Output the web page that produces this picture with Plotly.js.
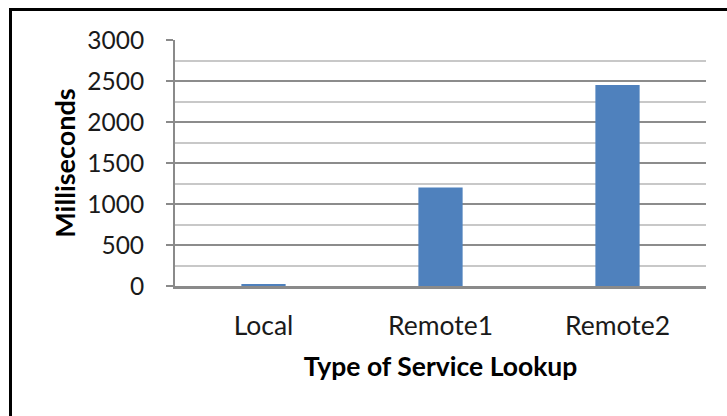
<!DOCTYPE html>
<html>
<head>
<meta charset="utf-8">
<script src="https://cdn.plot.ly/plotly-3.0.1.min.js"></script>
<style>
  html, body { margin: 0; padding: 0; background: #fff; }
  #wrap { position: relative; width: 727px; height: 416px; overflow: hidden; }
  #chart { position: absolute; left: 0; top: 0; width: 727px; height: 416px; }
  #frame { position: absolute; left: 9px; top: 8px; width: 730px; height: 420px;
           border-left: 3px solid #000; border-top: 3px solid #000; pointer-events: none; }
</style>
</head>
<body>
<div id="wrap">
  <div id="chart"></div>
  <div id="frame"></div>
</div>
<script>
const categories = ["Local", "Remote1", "Remote2"];
const milliseconds = [25, 1200, 2450];
const yTickValues = [0, 500, 1000, 1500, 2000, 2500, 3000];
const xAxisTitle = "Type of Service Lookup";
const yAxisTitle = "Milliseconds";

const font = "Lato, 'Open Sans', sans-serif";

const trace = {
  type: "bar",
  x: categories,
  y: milliseconds,
  marker: { color: "#4f81bd", line: { width: 0 } },
  hoverinfo: "x+y"
};

const layout = {
  width: 727,
  height: 416,
  margin: { l: 175, r: 21, t: 40, b: 130 },
  paper_bgcolor: "#ffffff",
  plot_bgcolor: "#ffffff",
  bargap: 0.75,
  showlegend: false,
  font: { family: font, color: "#1a1a1a", size: 24 },
  xaxis: {
    type: "category",
    showgrid: false,
    showline: true,
    linecolor: "#8a8a8a",
    linewidth: 2.5,
    ticks: "",
    ticklabelstandoff: 15,
    tickfont: { family: font, size: 26.5, color: "#1a1a1a" },
    title: { text: xAxisTitle, font: { family: font, size: 26.5, color: "#000", weight: "bold" }, standoff: 17 },
    zeroline: false,
    fixedrange: true
  },
  yaxis: {
    range: [0, 3000],
    tickvals: yTickValues,
    ticktext: yTickValues.map(String),
    showgrid: true,
    gridcolor: "#8c8c8c",
    gridwidth: 2,
    minor: { dtick: 250, showgrid: true, gridcolor: "#c8c8c8", gridwidth: 2, ticks: "" },
    showline: true,
    linecolor: "#8a8a8a",
    linewidth: 2,
    ticks: "outside",
    ticklen: 7,
    tickwidth: 2,
    tickcolor: "#8a8a8a",
    ticklabelstandoff: 17,
    tickfont: { family: font, size: 24.5, color: "#1a1a1a" },
    title: { text: yAxisTitle, font: { family: font, size: 27, color: "#000", weight: "bold" }, standoff: 4 },
    zeroline: false,
    fixedrange: true
  }
};

Plotly.newPlot("chart", [trace], layout, { displayModeBar: false, staticPlot: true });
</script>
</body>
</html>
